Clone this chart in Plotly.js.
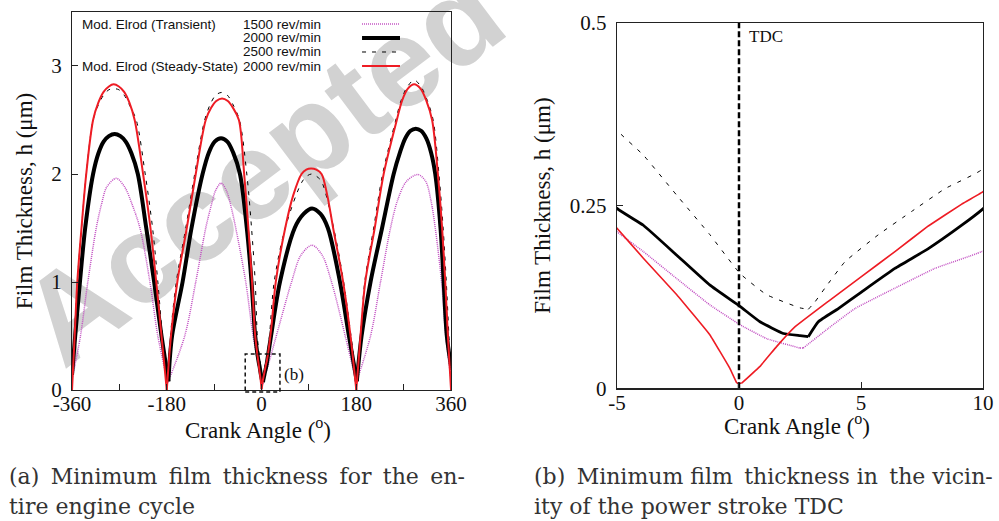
<!DOCTYPE html>
<html>
<head>
<meta charset="utf-8">
<script src="https://cdn.plot.ly/plotly-3.0.1.min.js"></script>
<style>html,body{margin:0;padding:0;background:#fff;}#chart{width:999px;height:521px;}</style>
</head>
<body>
<div id="chart"></div>
<script>
// ---- Data (crank angle in degrees, film thickness h in micrometres) ----
// Mod. Elrod (Transient) 1500 rev/min
const mag_x = [-360,-344,-330,-314,-304,-294,-276,-260,-246,-231,-212,-197,-178,
  -146,-125,-106,-96,-87,-77,-67,-58,-49,-30,-16,
  -5,-3.92,-2.55,-1.19,0.04,1.13,2.5,2.63,3.66,4.75,6.39,8.03,9.95,
  28,57,75,96,115,133,159,180,
  207,226,245,258,275,297,312,322,330,342,350,360];
const mag_h = [0.1,0.5,1.0,1.5,1.72,1.88,1.96,1.88,1.72,1.5,1.0,0.5,0.07,
  0.5,1.0,1.5,1.7,1.85,1.915,1.85,1.7,1.5,1.0,0.5,
  0.214,0.187,0.150,0.114,0.087,0.068,0.055,0.055,0.082,0.109,0.137,0.164,0.187,
  0.5,1.0,1.25,1.34,1.25,1.0,0.5,0.07,
  0.5,1.0,1.5,1.75,1.93,1.995,1.93,1.75,1.5,1.0,0.5,0.1];

// Mod. Elrod (Transient) 2000 rev/min
const blk_x = [-360,-354,-345,-335,-320,-310,-300,-290,-279,-268,-258,-247,-235,-219,-204,-190,-177,
  -170,-150,-133,-112,-100,-89,-77,-65,-54,-41,-28,-19,-12,
  -5,-3.92,-2.55,-1.19,0.04,0.86,1.82,2.5,2.84,3.25,4.07,5.03,6.39,7.76,9.13,9.95,
  18,35,63,80,96,112,126,149,166,181,
  190,207,229,251,263,273,283,293,303,313,322,330,340,346,352,360];
const blk_h = [0.14,0.5,1.0,1.5,2.0,2.19,2.3,2.35,2.37,2.35,2.3,2.19,2.0,1.5,1.0,0.5,0.08,
  0.5,1.0,1.5,2.0,2.2,2.3,2.33,2.3,2.2,2.0,1.5,1.0,0.5,
  0.246,0.223,0.182,0.141,0.112,0.091,0.075,0.072,0.0706,0.091,0.109,0.132,0.164,0.191,0.223,0.244,
  0.5,1.0,1.5,1.63,1.68,1.63,1.5,1.0,0.5,0.08,
  0.5,1.0,1.5,2.0,2.2,2.33,2.4,2.42,2.4,2.33,2.2,2.0,1.5,1.0,0.5,0.22];

// Mod. Elrod (Transient) 2500 rev/min
const dsh_x = [-360,-355,-350,-342,-333,-320,-310,-300,-290,-281,-271,-261,-251,-238,-221,-207,-197,-188,-178,
  -173,-162,-144,-127,-108,-97,-87,-76,-65,-55,-42,-28,-19,-12,-8,
  -5,-3.92,-2.55,-1.19,0.04,1.13,2.5,2.84,3.11,3.52,4.34,5.71,7.08,8.44,9.95,
  15,24,45,76,86,95,104,114,137,156,170,181,
  188,196,213,230,255,265,276,290,304,315,326,337,345,351,356,360];
const dsh_h = [0.12,0.5,1.0,1.5,2.0,2.5,2.64,2.73,2.78,2.79,2.78,2.73,2.64,2.5,2.0,1.5,1.0,0.5,0.12,
  0.5,1.0,1.5,2.0,2.5,2.65,2.73,2.755,2.73,2.65,2.5,2.0,1.5,1.0,0.5,
  0.353,0.319,0.264,0.21,0.157,0.128,0.110,0.108,0.118,0.137,0.173,0.21,0.242,0.273,0.299,
  0.5,1.0,1.5,1.92,1.98,2.0,1.98,1.93,1.5,1.0,0.5,0.1,
  0.5,1.0,1.5,2.0,2.5,2.68,2.8,2.87,2.8,2.68,2.5,2.0,1.5,1.0,0.5,0.12];

// Mod. Elrod (Steady-State) 2000 rev/min
const red_x = [-360,-355,-350,-342,-333,-320,-310,-300,-290,-281,-271,-261,-251,-241,-225,-211,-200,-190,-180,
  -172,-160,-142,-125,-106,-96,-86,-75,-64,-54,-43,-33,-25,-18,-12,
  -5,-3.92,-2.55,-1.19,-0.37,-0.09,0.11,0.86,1.54,2.29,3.66,5.03,6.39,7.76,9.13,10,
  18,27,45,60,76,85,94,104,114,125,136,155,169,180,
  188,197,215,232,257,267,278,290,302,313,324,335,343,349,354,360];
const red_h = [0,0.5,1.0,1.5,2.0,2.5,2.66,2.76,2.81,2.83,2.81,2.76,2.66,2.5,2.0,1.5,1.0,0.5,0,
  0.5,1.0,1.5,2.0,2.5,2.61,2.675,2.70,2.675,2.61,2.5,2.0,1.5,1.0,0.5,
  0.219,0.178,0.128,0.073,0.027,0.007,0.007,0.030,0.057,0.084,0.119,0.153,0.187,0.222,0.252,0.269,
  0.55,1.0,1.5,1.8,2.0,2.04,2.05,2.04,2.0,1.8,1.5,1.0,0.5,0,
  0.5,1.0,1.5,2.0,2.5,2.68,2.79,2.83,2.79,2.68,2.5,2.0,1.5,1.0,0.5,0];

// TDC marker line (panel b)
const tdc_x = [0, 0];
const tdc_h = [0, 0.5];

// Tick labels
const xTicksA = [-360,-270,-180,-90,0,90,180,270,360];
const xTextA  = ['-360','','-180','','0','','180','','360'];
const yTicksA = [0,1,2,3];
const xTicksB = [-5,0,5,10];
const xTextB  = ['-5','0','5','10'];
const yTicksB = [0,0.25,0.5];
const yTextB  = ['0','0.25','0.5'];

// Titles and legend texts
const xTitle = 'Crank Angle (<sup>o</sup>)';
const yTitle = 'Film Thickness, h (\u03bcm)';
const legMethods = ['Mod. Elrod (Transient)', 'Mod. Elrod (Steady-State)'];
const legSpeeds  = ['1500 rev/min','2000 rev/min','2500 rev/min','2000 rev/min'];

// ---- Styles ----
const MAG = '#c24fc2', RED = '#ee1c24';
const serif = 'Liberation Serif, Times New Roman, serif';
const sans = 'Liberation Sans, Arial, sans-serif';

// split a series into arches at its local minima (cusps), so each arch is smoothed on its own
function arches(xs, hs) {
  const out = []; let s = 0;
  for (let i = 1; i < xs.length - 1; i++) {
    if (hs[i] <= hs[i-1] && hs[i] <= hs[i+1]) { out.push([s, i]); s = i; }
  }
  out.push([s, xs.length - 1]);
  return out.map(p => ({x: xs.slice(p[0], p[1] + 1), y: hs.slice(p[0], p[1] + 1)}));
}

function series(xs, hs, xa, ya, line, smooth) {
  return arches(xs, hs).map(a => ({
    x: a.x, y: a.y, xaxis: xa, yaxis: ya, type: 'scatter', mode: 'lines',
    line: Object.assign({shape: 'spline', smoothing: smooth}, line),
    showlegend: false, hoverinfo: 'skip'
  }));
}

const data = [].concat(
  series(mag_x, mag_h, 'x', 'y', {color: MAG, width: 1.5, dash: '1px,1px'}, 0.9),
  series(blk_x, blk_h, 'x', 'y', {color: '#000', width: 4}, 0.9),
  series(dsh_x, dsh_h, 'x', 'y', {color: '#000', width: 1, dash: '4px,6px'}, 0.9),
  series(red_x, red_h, 'x', 'y', {color: RED, width: 2}, 0.9),
  series(mag_x, mag_h, 'x2', 'y2', {color: MAG, width: 1.5, dash: '1px,1px'}, 0.35),
  series(blk_x, blk_h, 'x2', 'y2', {color: '#000', width: 2.8}, 0.35),
  series(dsh_x, dsh_h, 'x2', 'y2', {color: '#000', width: 1, dash: '4px,7px'}, 0.35),
  series(red_x, red_h, 'x2', 'y2', {color: RED, width: 1.6}, 0.2),
  [{x: tdc_x, y: tdc_h, xaxis: 'x2', yaxis: 'y2', type: 'scatter', mode: 'lines',
    line: {color: '#000', width: 2.5, dash: '6px,3px'}, showlegend: false, hoverinfo: 'skip'}]
);

function axisBase(extra) {
  return Object.assign({
    showline: true, mirror: true, linecolor: '#222', linewidth: 1.2,
    ticks: 'inside', ticklen: 6, tickwidth: 1, tickcolor: '#222',
    showgrid: false, zeroline: false, fixedrange: true,
    tickfont: {family: serif, size: 21, color: '#111'}
  }, extra);
}

const titleFont = {family: serif, size: 23, color: '#111'};
const rowY = [0.9539, 0.9271, 0.9002, 0.8733];
const legFont = {family: sans, size: 13.5, color: '#111'};
const annotations = [];
// x-axis titles
annotations.push({xref:'paper', yref:'paper', x:0.2583, y:0.1785, xanchor:'center', yanchor:'middle',
  text: xTitle, showarrow:false, font:titleFont});
annotations.push({xref:'paper', yref:'paper', x:0.7978, y:0.1843, xanchor:'center', yanchor:'middle',
  text: xTitle, showarrow:false, font:titleFont});
// legend
annotations.push({xref:'paper', yref:'paper', x:0.0801, y:rowY[0], xanchor:'left', yanchor:'middle',
  text: legMethods[0], showarrow:false, font:legFont});
annotations.push({xref:'paper', yref:'paper', x:0.0801, y:rowY[3], xanchor:'left', yanchor:'middle',
  text: legMethods[1], showarrow:false, font:legFont});
legSpeeds.forEach((s, i) => annotations.push({xref:'paper', yref:'paper', x:0.3233, y:rowY[i],
  xanchor:'right', yanchor:'middle', text:s, showarrow:false, font:legFont}));
// (b) label in panel a
annotations.push({xref:'x', yref:'y', x:62, y:0.14, xanchor:'center', yanchor:'middle', text:'(b)',
  showarrow:false, font:{family:serif, size:17, color:'#111'}});
// TDC label
annotations.push({xref:'paper', yref:'paper', x:0.7477, y:0.929, xanchor:'left', yanchor:'middle', text:'TDC',
  showarrow:false, font:{family:serif, size:17, color:'#111'}});
// Captions (thin spaces mimic the justified line spacing)
const T = '\u2009';
const capFont = {family: 'DejaVu Serif, serif', size: 22, color: '#333'};
[['(a) ' + T + 'Minimum ' + T + 'film ' + T + 'thickness ' + T + 'for ' + T + 'the ' + T + 'en-', 0.007, 0.0845],
 ['tire engine cycle', 0.007, 0.0269],
 ['(b) ' + T + 'Minimum film ' + T + 'thickness in ' + T + 'the vicin-', 0.5325, 0.0845],
 ['ity of the power stroke TDC', 0.5325, 0.0269]].forEach(c => annotations.push({
   xref:'paper', yref:'paper', x:c[1], y:c[2], xanchor:'left', yanchor:'middle', text:c[0],
   showarrow:false, font:capFont}));

const legX0 = 0.3624, legX1 = 0.4004;
const shapes = [
  // watermark
  {type:'rect', xref:'paper', yref:'paper', x0:0.155, x1:0.355, y0:0.636, y1:0.762, layer:'below',
   line:{width:0}, fillcolor:'rgba(0,0,0,0)',
   label:{text:'Accepted', textangle:-37, textposition:'middle center',
          font:{family:sans, size:125, color:'#d2d2d2', weight:'bold'}}},
  // legend keys
  {type:'line', xref:'paper', yref:'paper', x0:legX0, x1:legX1, y0:rowY[0], y1:rowY[0], line:{color:MAG, width:1.5, dash:'1px,1px'}},
  {type:'line', xref:'paper', yref:'paper', x0:legX0, x1:legX1, y0:rowY[1], y1:rowY[1], line:{color:'#000', width:4}},
  {type:'line', xref:'paper', yref:'paper', x0:legX0, x1:legX1, y0:rowY[2], y1:rowY[2], line:{color:'#000', width:1, dash:'4px,6px'}},
  {type:'line', xref:'paper', yref:'paper', x0:legX0, x1:legX1, y0:rowY[3], y1:rowY[3], line:{color:RED, width:2}},
  // (b) zoom box
  {type:'rect', xref:'x', yref:'paper', x0:-31, x1:35, y0:0.2475, y1:0.3205,
   line:{color:'#111', width:1.5, dash:'4px,3px'}, fillcolor:'rgba(0,0,0,0)'}
];

const layout = {
  width: 999, height: 521,
  margin: {l:0, r:0, t:0, b:0},
  paper_bgcolor: '#fff', plot_bgcolor: 'rgba(0,0,0,0)',
  showlegend: false,
  xaxis: axisBase({domain:[0.0721, 0.4515], anchor:'y', range:[-360,360],
    tickvals:xTicksA, ticktext:xTextA, ticklabelstandoff:-5}),
  yaxis: axisBase({domain:[0.2514, 0.977], anchor:'x', range:[0,3.5],
    tickvals:yTicksA, ticklabelstandoff:5,
    title:{text:yTitle, font:titleFont, standoff:12}}),
  xaxis2: axisBase({domain:[0.6176, 0.984], anchor:'y2', range:[-5,10],
    tickvals:xTicksB, ticktext:xTextB, ticklabelstandoff:-5}),
  yaxis2: axisBase({domain:[0.2547, 0.9564], anchor:'x2', range:[0,0.5],
    tickvals:yTicksB, ticktext:yTextB, ticklabelstandoff:5,
    title:{text:yTitle, font:titleFont, standoff:12}}),
  annotations: annotations,
  shapes: shapes
};

Plotly.newPlot('chart', data, layout, {displayModeBar:false, staticPlot:true});
</script>
</body>
</html>
